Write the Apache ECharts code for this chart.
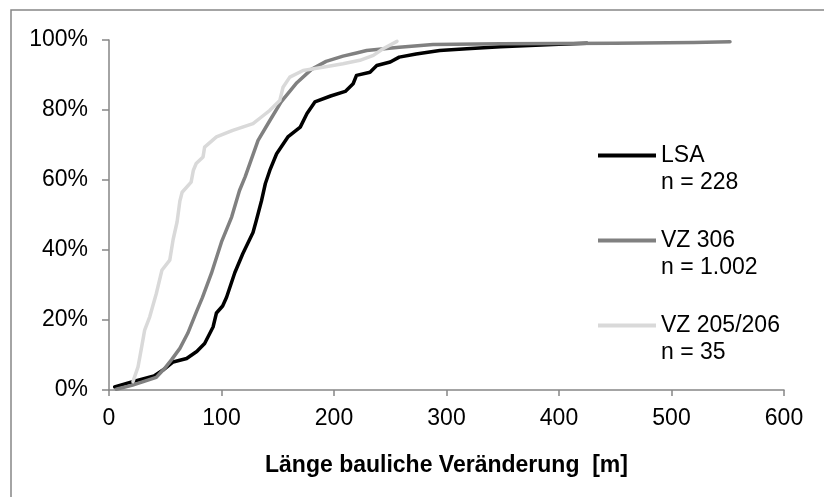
<!DOCTYPE html>
<html>
<head>
<meta charset="utf-8">
<script src="https://cdn.jsdelivr.net/npm/echarts@6/dist/echarts.min.js"></script>
<style>
html,body{margin:0;padding:0;background:#fff;}
#c{width:824px;height:497px;}
</style>
</head>
<body>
<div id="c"></div>
<script>
// ---- data ----
const seriesNames = ['LSA', 'VZ 306', 'VZ 205/206'];
const seriesCounts = ['228', '1.002', '35'];
const xTicks = [0, 100, 200, 300, 400, 500, 600];
const yTicks = [0, 20, 40, 60, 80, 100];

const lsaX = [5, 21, 40, 48, 57, 69, 78, 85, 92.5, 95.5, 101, 104.5, 111.8, 119, 128, 131, 135.5, 139, 143, 149, 159, 170, 176, 183, 197, 210, 217, 220, 232, 238, 250, 258, 273, 294, 318, 348, 400, 425];
const lsaY = [0.9, 2.4, 4, 5.7, 8, 9, 11, 13.3, 18, 22, 24, 26.5, 33.5, 39, 45, 48.5, 54, 59, 62.8, 67.5, 72.3, 75.1, 79, 82.3, 84, 85.3, 87.5, 89.9, 90.8, 92.7, 93.7, 95.1, 96, 97, 97.5, 98.1, 98.8, 99.1];

const vz306X = [6.5, 21, 42, 49.5, 55.5, 63, 70, 77.7, 83, 91, 100, 109, 116, 121, 132.5, 143, 153, 167, 180, 193, 208, 220, 229, 258, 288, 348, 450, 520, 552];
const vz306Y = [0.2, 1.4, 3.6, 6.2, 8.6, 11.9, 16.2, 22.3, 26.4, 33.3, 42.3, 49.4, 57, 60.9, 71.3, 77, 82.3, 87.8, 91.6, 93.9, 95.4, 96.3, 97, 97.9, 98.7, 98.9, 99.1, 99.3, 99.5];

const vz205X = [21.3, 25.8, 28.8, 31.7, 36.2, 42, 47, 54, 57, 60.5, 63, 65, 73, 75, 77.5, 83.6, 85, 95.5, 110, 128, 135.5, 143, 151.8, 154.7, 160.7, 172.5, 190, 208, 223, 235, 243.6, 256];
const vz205Y = [2.4, 6.6, 11.9, 17.1, 20.9, 27.5, 34.2, 37.1, 43, 48, 54, 56.5, 59.4, 62.8, 64.7, 66.6, 69.4, 72.3, 74.2, 76.1, 78, 79.9, 82.7, 86.5, 89.4, 91.3, 92.2, 93.2, 94.2, 95.6, 97.5, 99.6];

const colors = ['#000000', '#808080', '#d9d9d9'];

function pairs(xs, ys) { return xs.map((x, i) => [x, ys[i]]); }

const chart = echarts.init(document.getElementById('c'), null, {renderer: 'canvas'});
const FONT = '"Liberation Sans", Arial, sans-serif';
const axisColor = '#868686';

const datasets = [pairs(lsaX, lsaY), pairs(vz306X, vz306Y), pairs(vz205X, vz205Y)];

chart.setOption({
  animation: false,
  backgroundColor: '#ffffff',
  textStyle: {fontFamily: FONT},
  graphic: [{
    type: 'rect', silent: true,
    shape: {x: 11, y: 10, width: 1000, height: 800},
    style: {fill: 'none', stroke: axisColor, lineWidth: 1.5}
  }],
  grid: {left: 109, right: 40, top: 40, bottom: 107, containLabel: false},
  legend: {
    orient: 'vertical',
    left: 598, top: 115,
    padding: 0,
    itemGap: 4,
    itemWidth: 58, itemHeight: 4,
    icon: 'rect',
    data: seriesNames,
    formatter: function (name) {
      const i = seriesNames.indexOf(name);
      return '\n' + name + '\nn = ' + seriesCounts[i];
    },
    textStyle: {fontFamily: FONT, fontSize: 23, lineHeight: 27, color: '#000'}
  },
  xAxis: {
    type: 'value', min: xTicks[0], max: xTicks[xTicks.length - 1], interval: 100,
    name: 'Länge bauliche Veränderung  [m]',
    nameLocation: 'middle', nameGap: 64,
    nameTextStyle: {fontFamily: FONT, fontSize: 23, fontWeight: 'bold', color: '#000'},
    axisLine: {lineStyle: {color: axisColor, width: 1.5}},
    axisTick: {show: true, length: 6, lineStyle: {color: axisColor, width: 1.5}},
    splitLine: {show: false},
    axisLabel: {fontFamily: FONT, fontSize: 23, color: '#000', margin: 17}
  },
  yAxis: {
    type: 'value', min: yTicks[0], max: yTicks[yTicks.length - 1], interval: 20,
    axisLine: {show: true, lineStyle: {color: axisColor, width: 1.5}},
    axisTick: {show: true, length: 7, lineStyle: {color: axisColor, width: 1.5}},
    splitLine: {show: false},
    axisLabel: {fontFamily: FONT, fontSize: 23, color: '#000', margin: 21, formatter: '{value}%'}
  },
  series: seriesNames.map((n, i) => ({
    name: n, type: 'line', data: datasets[i],
    showSymbol: false, symbol: 'none',
    color: colors[i],
    lineStyle: {color: colors[i], width: 3.5, cap: 'round', join: 'round'},
    itemStyle: {color: colors[i]}
  }))
});
</script>
</body>
</html>
